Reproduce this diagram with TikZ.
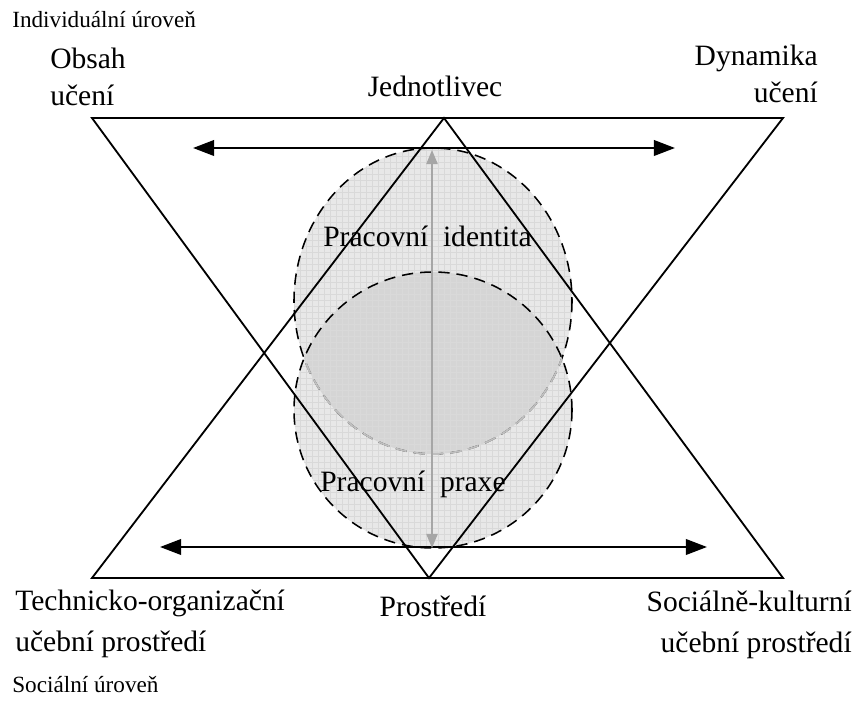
\documentclass[tikz,border=0pt]{standalone}
\usepackage{fontspec}
\setmainfont{Liberation Serif}
\usetikzlibrary{arrows.meta}
\tikzset{
side/.style={line width=1.3pt}, % sides of both triangles
flow/.style={<->, >={Triangle[length=15pt, width=11pt]}, line width=1.7pt}, % black double arrows
axis/.style={<->, >={Triangle[length=10pt, width=8pt]}, gray!70, line width=1pt}, % gray vertical arrow
ring/.style={dashed, dash pattern=on 8pt off 5pt, line width=1.1pt}, % dashed circles
lbl/.style={font=\fontsize{21}{27}\selectfont, inner sep=0pt}, % main labels
lvl/.style={font=\fontsize{16.5}{18}\selectfont, inner sep=0pt}, % level labels
}

\begin{document}
\begin{tikzpicture}[x=0.025cm, y=-0.025cm]
\useasboundingbox (0,0) rectangle (857,708);
% corners
\coordinate (tl) at (92,118);
\coordinate (tr) at (783,118);
\coordinate (bl) at (92,578);
\coordinate (br) at (783,578);
\coordinate (top) at (444,118);
\coordinate (bot) at (429,578);

% the two circles and their overlap
\fill[gray!18] (433,301) ellipse [x radius=139, y radius=153];
\fill[gray!18] (433,410) ellipse [x radius=139, y radius=138];
\begin{scope}
\clip (433,301) ellipse [x radius=139, y radius=153];
\fill[gray!33] (433,410) ellipse [x radius=139, y radius=138];
\end{scope}
\begin{scope}
\clip (433,301) ellipse [x radius=139, y radius=153] (433,410) ellipse [x radius=139, y radius=138];
\draw[white!70!gray, line width=0.15pt, step=0.15cm] (290,552) grid (580,145);
\end{scope}
\draw[ring] (433,301) ellipse [x radius=139, y radius=153];
\draw[ring] (433,410) ellipse [x radius=139, y radius=138];
\begin{scope}
\clip (433,410) ellipse [x radius=139, y radius=138];
\draw[ring, gray!50, line width=1.3pt] (433,301) ellipse [x radius=139, y radius=153];
\end{scope}

% triangles
\draw[side] (tl) -- (tr) -- (bot) -- cycle;
\draw[side] (bl) -- (br) -- (top) -- cycle;

% arrows
\coordinate (ha) at (193,148);
\coordinate (hb) at (675,148);
\coordinate (la) at (160,547);
\coordinate (lb) at (707,547);
\coordinate (va) at (432,150);
\coordinate (vb) at (432,548);
\draw[flow] (ha) -- (hb);
\draw[flow] (la) -- (lb);
\draw[axis] (va) -- (vb);

% labels (base = last line)
\node[lvl, anchor=base west] (indiv) at (12,28) {Individuální úroveň};
\node[lbl, anchor=base west, align=left] (obsah) at (50,106) {Obsah\\učení};
\node[lbl, anchor=base east, align=right] (dyn) at (818,103) {Dynamika\\učení};
\node[lbl, anchor=base] (jedn) at (435,97) {Jednotlivec};
\node[lbl, anchor=base west] (ident) at (323,247) {Pracovní\ \ identita};
\node[lbl, anchor=base west] (praxe) at (320,492) {Pracovní\ \ praxe};
\node[lbl, anchor=base] (prost) at (433,617) {Prostředí};
\node[lbl, anchor=base west, align=left, font=\fontsize{21}{29}\selectfont] (tech) at (15,651) {Technicko-organizační\\učební prostředí};
\node[lbl, anchor=base east, align=right, font=\fontsize{21}{29}\selectfont] (soc) at (852,652) {Sociálně-kulturní\\učební prostředí};
\node[lvl, anchor=base west] (socl) at (12,692) {Sociální úroveň};
\end{tikzpicture}
\end{document}
